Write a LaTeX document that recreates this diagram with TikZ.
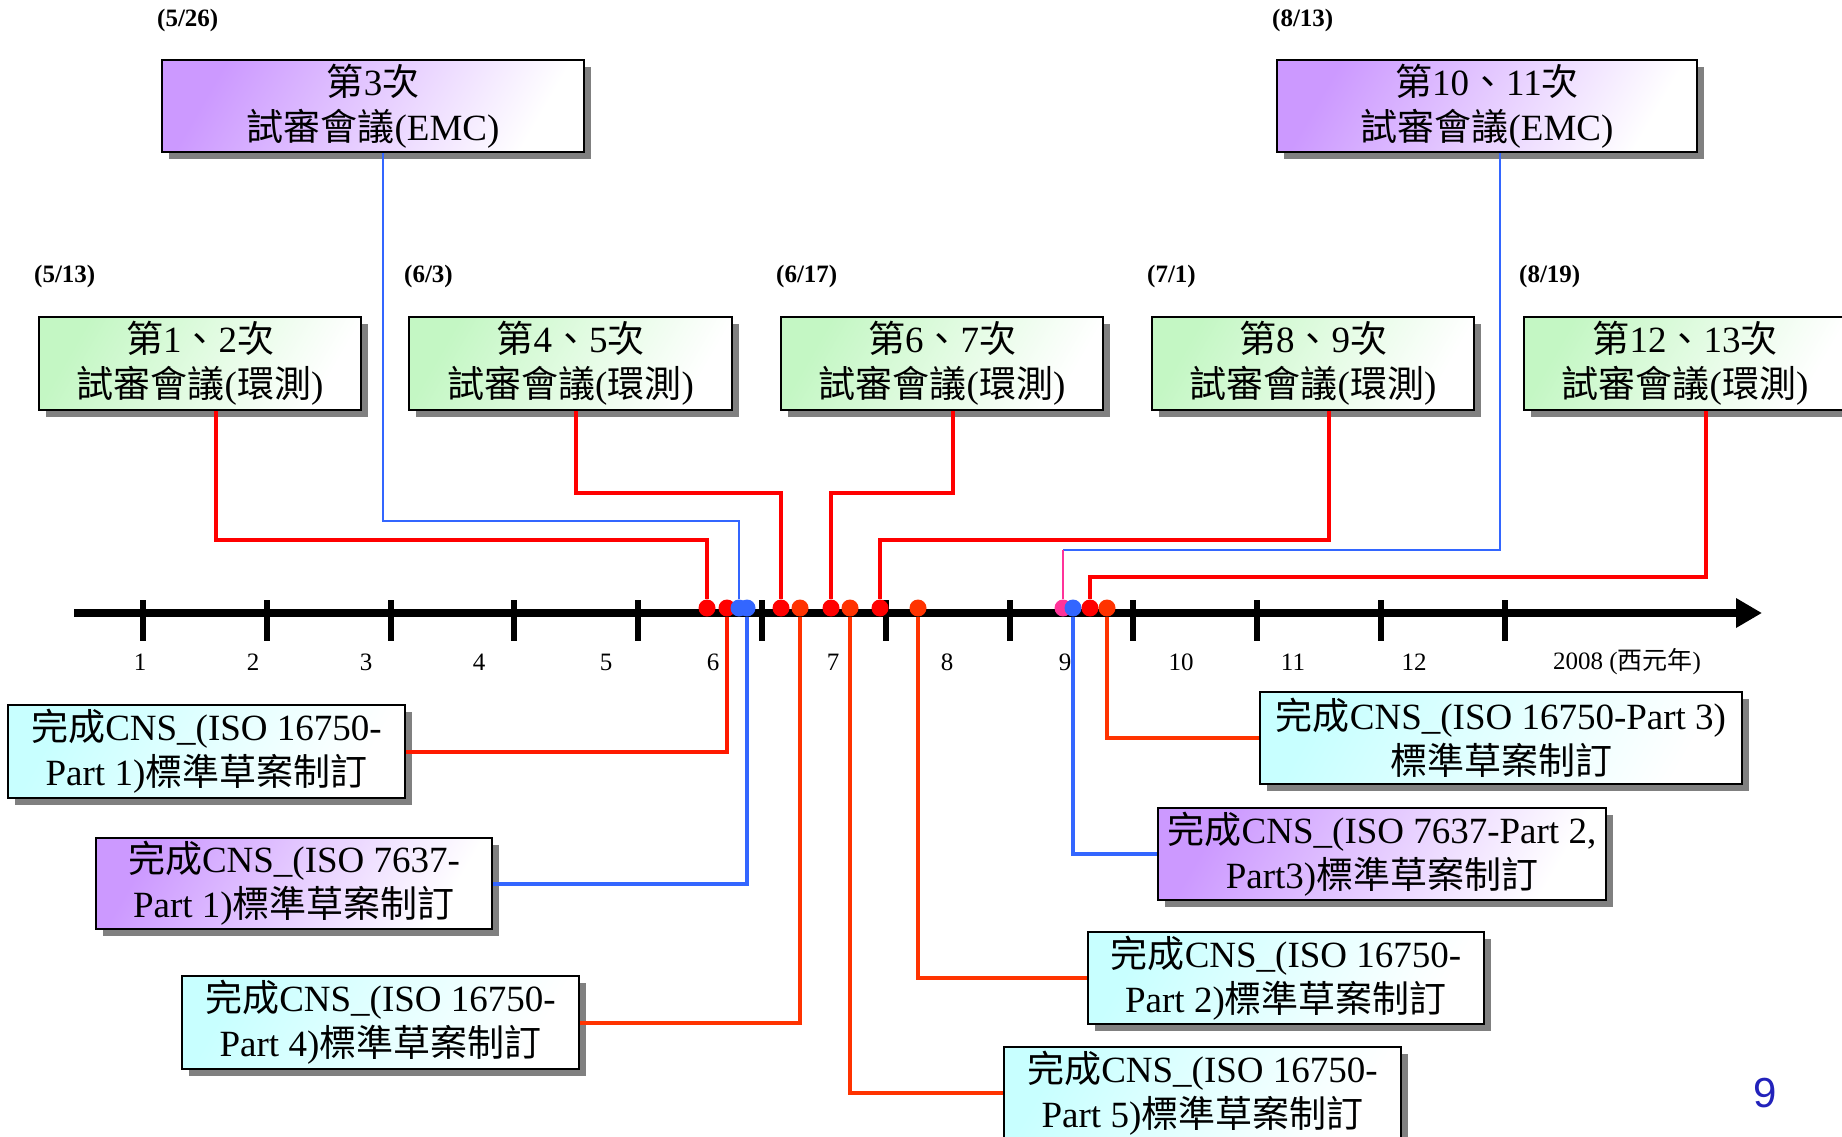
\documentclass[tikz,border=0pt]{standalone}
\usepackage{fontspec}
\setmainfont{Liberation Serif}
\newfontfamily\cjkfont{Noto Sans CJK TC}
\newfontfamily\arialfont{Liberation Sans}
\usetikzlibrary{shadows,arrows.meta}
\newcommand\zh[1]{{\cjkfont #1}}
\definecolor{cpurple}{HTML}{CC99FF}
\definecolor{cgreen}{HTML}{C4F7C4}
\definecolor{ccyan}{HTML}{C8FFFF}
\definecolor{lred}{HTML}{FF0000}
\definecolor{lred2}{HTML}{FF1A00}
\definecolor{lorange}{HTML}{FF3300}
\definecolor{lblue}{HTML}{3366FF}
\definecolor{lpink}{HTML}{FF3399}
\definecolor{pnum}{HTML}{2222BB}
\begin{document}
\begin{tikzpicture}[x=1pt,y=-1pt,
  box/.style={draw=black, line width=2.2pt, inner sep=0pt, align=center,
    font=\fontsize{37}{45}\selectfont,
    drop shadow={shadow xshift=7pt, shadow yshift=-7pt, fill=black!50, opacity=1}},
  pbox/.style={box, top color=cpurple, bottom color=white, shading angle=60},
  gbox/.style={box, top color=cgreen, bottom color=white, shading angle=60},
  cbox/.style={box, top color=ccyan, bottom color=white, shading angle=60},
  datel/.style={anchor=west, inner sep=0pt, font=\bfseries\fontsize{25}{30}\selectfont},
  ticklbl/.style={inner sep=0pt, font=\fontsize{25}{30}\selectfont},
  dotn/.style={circle, minimum size=17pt, inner sep=0pt, draw=none},
  rl/.style={draw=lred, line width=4pt},
  rl2/.style={draw=lred2, line width=4pt},
  ol/.style={draw=lorange, line width=4pt},
  bl/.style={draw=lblue, line width=2pt},
  bl2/.style={draw=lblue, line width=4pt},
  pl/.style={draw=lpink, line width=2pt}
]
\fill[white] (0,0) rectangle (1842,1137);
\useasboundingbox (0,0) rectangle (1842,1137);

% top purple boxes
\node[datel] (t526) at (157,20) {(5/26)};
\node[datel] (t813) at (1272,20) {(8/13)};
\node[pbox, minimum width=422pt, minimum height=92pt] (b3) at (373,106)
  {\zh{第}3\zh{次}\\\zh{試審會議}(EMC)};
\node[pbox, minimum width=420pt, minimum height=92pt] (b1011) at (1487,106)
  {\zh{第}10\zh{、}11\zh{次}\\\zh{試審會議}(EMC)};

% green boxes
\node[datel] (t513) at (34,276) {(5/13)};
\node[datel] (t63) at (404,276) {(6/3)};
\node[datel] (t617) at (776,276) {(6/17)};
\node[datel] (t71) at (1147,276) {(7/1)};
\node[datel] (t819) at (1519,276) {(8/19)};
\node[gbox, minimum width=322pt, minimum height=93pt] (b12) at (200,363.5)
  {\zh{第}1\zh{、}2\zh{次}\\\zh{試審會議}(\zh{環測})};
\node[gbox, minimum width=323pt, minimum height=93pt] (b45) at (570.5,363.5)
  {\zh{第}4\zh{、}5\zh{次}\\\zh{試審會議}(\zh{環測})};
\node[gbox, minimum width=322pt, minimum height=93pt] (b67) at (942,363.5)
  {\zh{第}6\zh{、}7\zh{次}\\\zh{試審會議}(\zh{環測})};
\node[gbox, minimum width=322pt, minimum height=93pt] (b89) at (1313,363.5)
  {\zh{第}8\zh{、}9\zh{次}\\\zh{試審會議}(\zh{環測})};
\node[gbox, minimum width=322pt, minimum height=93pt] (b1213) at (1685,363.5)
  {\zh{第}12\zh{、}13\zh{次}\\\zh{試審會議}(\zh{環測})};

% lower boxes
\node[cbox, minimum width=397pt, minimum height=93pt] (p1) at (206.5,751.5)
  {\zh{完成}CNS\_(ISO 16750-\\Part 1)\zh{標準草案制訂}};
\node[pbox, minimum width=396pt, minimum height=91pt] (q1) at (294,883.5)
  {\zh{完成}CNS\_(ISO 7637-\\Part 1)\zh{標準草案制訂}};
\node[cbox, minimum width=397pt, minimum height=93pt] (p4) at (380.5,1022.5)
  {\zh{完成}CNS\_(ISO 16750-\\Part 4)\zh{標準草案制訂}};
\node[cbox, minimum width=397pt, minimum height=92pt] (p5) at (1202.5,1093)
  {\zh{完成}CNS\_(ISO 16750-\\Part 5)\zh{標準草案制訂}};
\node[cbox, minimum width=396pt, minimum height=92pt] (p2) at (1286,978)
  {\zh{完成}CNS\_(ISO 16750-\\Part 2)\zh{標準草案制訂}};
\node[pbox, minimum width=448pt, minimum height=92pt] (q23) at (1382,854)
  {\zh{完成}CNS\_(ISO 7637-Part 2,\\Part3)\zh{標準草案制訂}};
\node[cbox, minimum width=482pt, minimum height=92pt] (p3) at (1501,738)
  {\zh{完成}CNS\_(ISO 16750-Part 3)\\\zh{標準草案制訂}};

% timeline
\coordinate (tl0) at (74,613);
\coordinate (tl1) at (1762,613);
\draw[line width=8pt, -{Triangle[length=26pt,width=28pt]}] (tl0) -- (tl1);
\foreach \i in {0,...,11}
  \draw[line width=6pt] ({143+123.8*\i},600) -- ++(0,41);
\foreach \x/\t in {140/1,253/2,366/3,479/4,606/5,713/6,833/7,947/8,1065/9,1181/10,1293/11,1414/12}
  \node[ticklbl] (tk\t) at (\x,662) {\t};
\node[ticklbl] (tkyear) at (1627,662) {2008 (\zh{西元年})};

% dots
\node[dotn, fill=lred] (d1) at (707,608) {};
\node[dotn, fill=lred] (d2) at (727,608) {};
\node[dotn, fill=lblue] (d3) at (739,608) {};
\node[dotn, fill=lblue] (d4) at (747,608) {};
\node[dotn, fill=lred] (d5) at (781,608) {};
\node[dotn, fill=lorange] (d6) at (800,608) {};
\node[dotn, fill=lred] (d7) at (831,608) {};
\node[dotn, fill=lorange] (d8) at (850,608) {};
\node[dotn, fill=lred] (d9) at (880,608) {};
\node[dotn, fill=lorange] (d10) at (918,608) {};
\node[dotn, fill=lpink] (d11) at (1063,608) {};
\node[dotn, fill=lblue] (d12) at (1073,608) {};
\node[dotn, fill=lred] (d13) at (1090,608) {};
\node[dotn, fill=lorange] (d14) at (1107,608) {};

% upper connectors
\draw[rl] ([xshift=16pt]b12.south) -- ++(0,129) -| (d1);
\draw[bl] ([xshift=10pt]b3.south) -- ++(0,368) -| (d3);
\draw[rl] ([xshift=5.5pt]b45.south) -- ++(0,82) -| (d5);
\draw[rl] ([xshift=11pt]b67.south) -- ++(0,82) -| (d7);
\draw[rl] ([xshift=16pt]b89.south) -- ++(0,129) -| (d9);
\coordinate (k11) at (1063,550);
\draw[bl] ([xshift=13pt]b1011.south) |- (k11);
\draw[pl] (k11) -- (d11);
\draw[rl] ([xshift=21pt]b1213.south) -- ++(0,166) -| (d13);

% lower connectors
\draw[rl2] (d2) |- (p1.east);
\draw[bl2] (d4) |- (q1.east);
\draw[ol] (d6) |- (p4.east);
\draw[ol] (d8) |- (p5.west);
\draw[ol] (d10) |- (p2.west);
\draw[bl2] (d12) |- (q23.west);
\draw[ol] (d14) |- (p3.west);

% page number
\node[inner sep=0pt, text=pnum, font=\arialfont\fontsize{42}{48}\selectfont] (pg) at (1765,1093) {9};
\end{tikzpicture}
\end{document}
